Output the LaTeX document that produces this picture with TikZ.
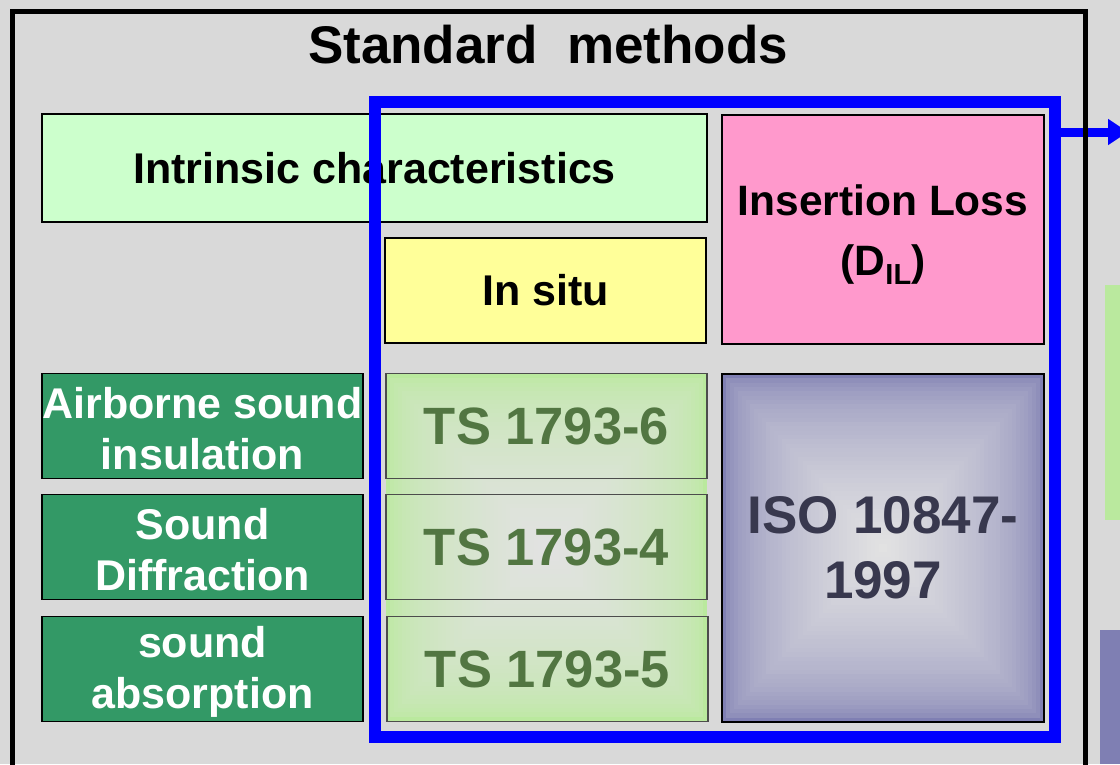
\documentclass[tikz,border=0pt]{standalone}
\usepackage{fontspec}
\setmainfont{Liberation Sans}
\usetikzlibrary{arrows.meta,calc}
\definecolor{pagegray}{HTML}{D9D9D9}
\definecolor{intrgreen}{HTML}{CCFFCC}
\definecolor{losspink}{HTML}{FF99CC}
\definecolor{situyellow}{HTML}{FFFF99}
\definecolor{methgreen}{HTML}{339966}
\definecolor{tsgreen}{HTML}{BAE99E}
\definecolor{tstext}{HTML}{527642}
\definecolor{isoblue}{HTML}{7F7FB3}
\definecolor{isotext}{HTML}{38384E}
\definecolor{glow}{HTML}{E2E2E2}
% rectangular glow from the edge colour to a light centre
\newcommand\boxglow[3]{%
  \foreach \k in {0,...,39}{
    \pgfmathsetmacro\t{\k/80}
    \pgfmathtruncatemacro\p{100*sqrt(\k/39)}
    \fill[glow!\p!#3] ($(#1)!\t!(#2)$) rectangle ($(#2)!\t!(#1)$);
  }}
\begin{document}
\begin{tikzpicture}[x=1pt,y=-1pt,
    every node/.style={inner sep=0pt,align=center,font=\bfseries\fontsize{43}{51}\selectfont},
    headbox/.style={draw=black,line width=1.5pt,minimum width=321pt,minimum height=105pt},
    methbox/.style={headbox,fill=methgreen,text=white},
    tsbox/.style={draw=black!70,line width=1.2pt,minimum width=321pt,minimum height=105pt,
      text=tstext,font=\bfseries\fontsize{52.5}{60}\selectfont},
    selbox/.style={draw=blue,line width=12pt,minimum width=680pt,minimum height=635pt},
    arrowline/.style={blue,line width=9pt,-{Triangle[length=20pt,width=25pt]}}]
	\useasboundingbox (0,0) rectangle (1120,764);
	\fill[pagegray] (0,0) rectangle (1120,764);
	\node[font=\bfseries\fontsize{53}{60}\selectfont] (title) at (548,45) {Standard\ \ methods};
	% column heads
	\node[headbox,fill=intrgreen,minimum width=665pt,minimum height=108pt] (intr) at (374.5,168) {Intrinsic characteristics};
	\node[headbox,fill=situyellow] (situ) at (545.5,290.5) {In situ};
	\node[headbox,fill=losspink,minimum width=322pt,minimum height=229pt] (loss) at (883,229.5) {};
	\node[font=\bfseries\fontsize{42.5}{60}\selectfont] (losstext) at (883,235)
		{Insertion Loss\\(D\raisebox{-9pt}{\fontsize{29}{29}\selectfont IL})};
	% quantities
	\node[methbox] (air) at (202.5,426) {};
	\node[methbox] (diff) at (202.5,547) {};
	\node[methbox] (abs) at (202.5,669) {};
	\node[text=white] at (202.5,429) {Airborne sound\\insulation};
	\node[text=white] at (202.5,550) {Sound\\Diffraction};
	\node[text=white] at (202.5,672) {sound\\absorption};
	% standards
	\boxglow{386,374}{707,721}{tsgreen}
	\node[tsbox] (ts6) at (546.5,426) {TS 1793-6};
	\node[tsbox] (ts4) at (546.5,547) {TS 1793-4};
	\node[tsbox] (ts5) at (547.5,669) {TS 1793-5};
	\boxglow{722,374}{1044,722}{isoblue}
	\node[draw=black,line width=1.5pt,minimum width=322pt,minimum height=348pt,text=isotext,
		font=\bfseries\fontsize{53}{65}\selectfont] (iso) at (883,548) {ISO 10847-\\1997};
	% selection and the next slide
	\node[selbox] (sel) at (715,419.5) {};
	\coordinate (next) at (1128,132);
	\draw[arrowline] (sel.east |- next) -- (next);
	\draw[line width=5pt] (12,11) rectangle (1085,800);
	\fill[tsgreen] (1105,285) rectangle (1120,520);
	\fill[isoblue] (1100,630) rectangle (1120,764);
\end{tikzpicture}
\end{document}
